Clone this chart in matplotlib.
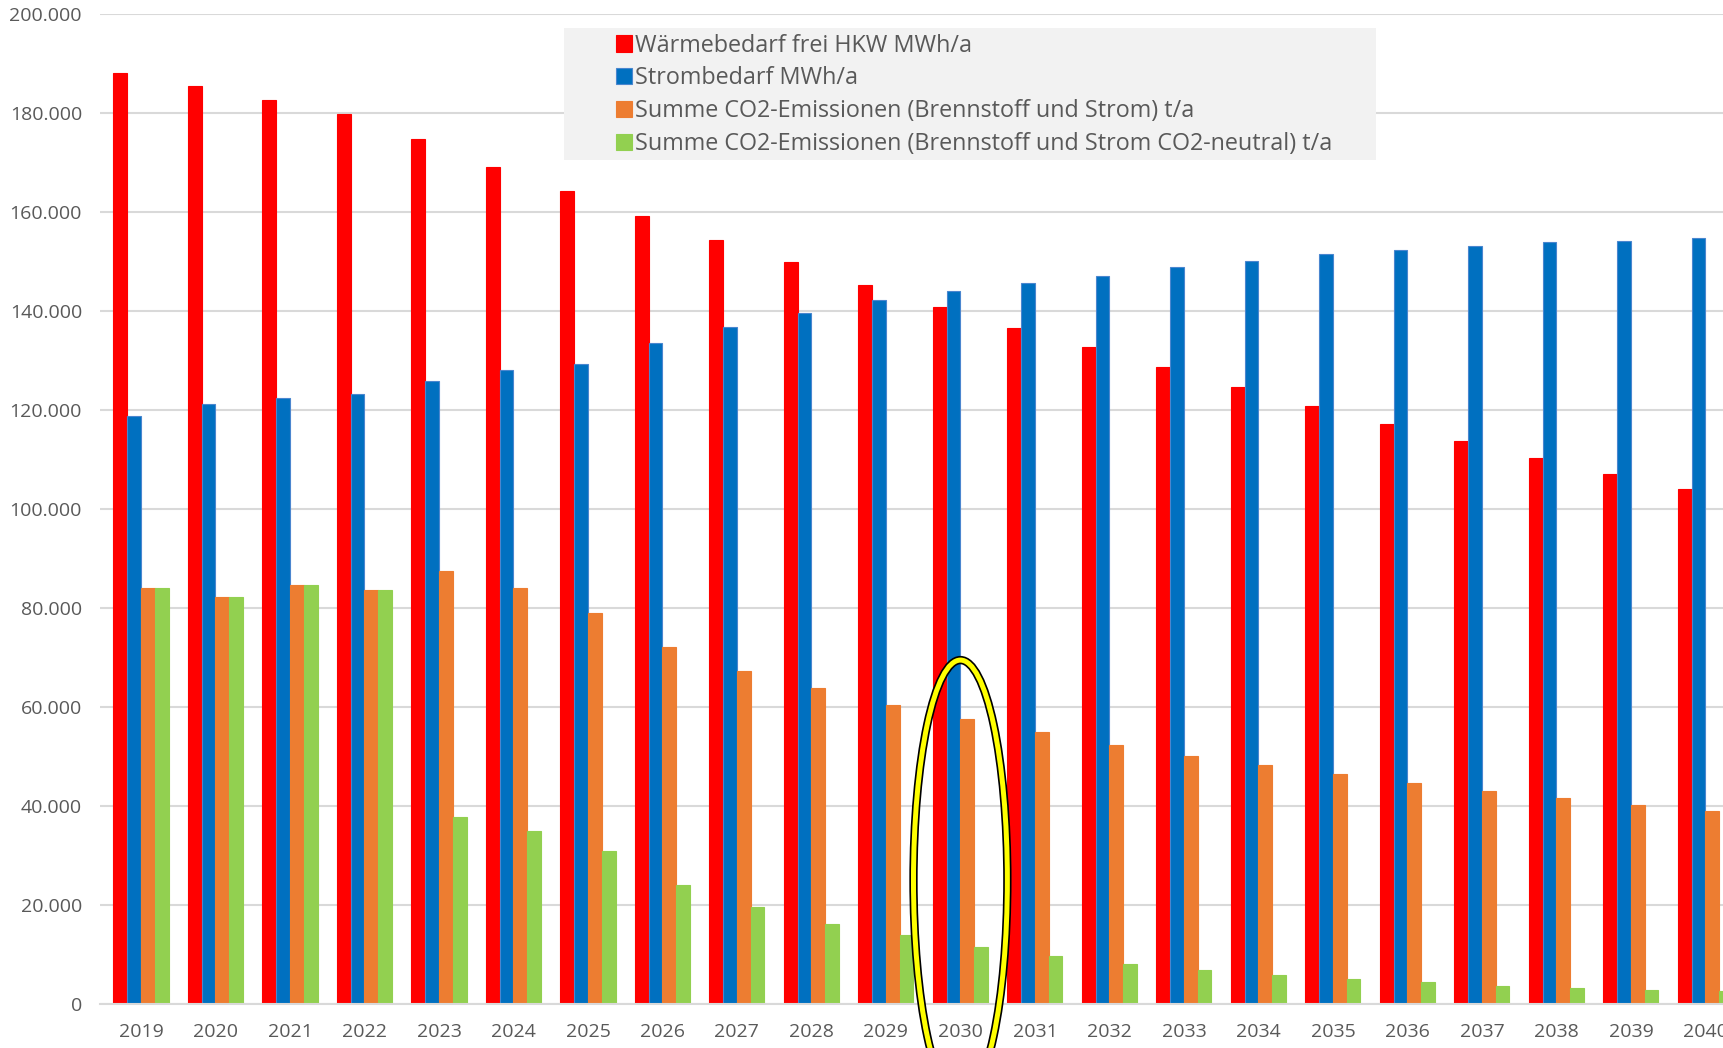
import matplotlib
matplotlib.use('Agg')
import matplotlib.pyplot as plt
import matplotlib.patheffects as pe
from matplotlib.patches import Ellipse, Rectangle
from matplotlib.ticker import FuncFormatter, MultipleLocator
import numpy as np

jahre = list(range(2019, 2041))

waermebedarf = [188200, 185600, 182700, 179800, 174700, 169100, 164200, 159300, 154400, 150000, 145300,
                140900, 136700, 132700, 128700, 124700, 120900, 117300, 113800, 110400, 107100, 104000]
strombedarf = [118900, 121300, 122400, 123300, 125800, 128200, 129300, 133600, 136900, 139600, 142200,
               144000, 145800, 147100, 148900, 150200, 151600, 152400, 153100, 154000, 154200, 154700]
co2_summe = [84000, 82200, 84700, 83600, 87600, 84000, 79100, 72200, 67300, 63800, 60400,
             57600, 54900, 52400, 50200, 48200, 46400, 44700, 43100, 41600, 40200, 39100]
co2_neutral = [84000, 82200, 84700, 83600, 37800, 34900, 30900, 24000, 19600, 16200, 14000,
               11600, 9800, 8000, 6900, 5800, 5100, 4400, 3600, 3300, 2900, 2700]

labels = ['Wärmebedarf frei HKW MWh/a',
          'Strombedarf MWh/a',
          'Summe CO2-Emissionen (Brennstoff und Strom) t/a',
          'Summe CO2-Emissionen (Brennstoff und Strom CO2-neutral) t/a']
farben = ['#FF0000', '#0070C0', '#ED7D31', '#92D050']
markiertes_jahr = 2030

plt.rcParams['font.family'] = ['Open Sans', 'DejaVu Sans']
textfarbe = '#595959'
gitter = '#D9D9D9'

W, H = 1724, 1048
fig = plt.figure(figsize=(W / 100, H / 100), dpi=100)
ax = fig.add_axes([100 / W, 1 - 1004 / H, 1 - 100 / W, (1004 - 14.3) / H])

x = np.arange(len(jahre))
breite = 0.185
reihen = [waermebedarf, strombedarf, co2_summe, co2_neutral]
for i, (werte, farbe, name) in enumerate(zip(reihen, farben, labels)):
    kante = '#4A86CF' if i == 1 else farbe
    ax.bar(x + (i - 1.5) * breite, werte, breite, color=farbe, edgecolor=kante,
           linewidth=0.8, label=name, zorder=2)

ax.set_xlim(-0.55, 21.25)
ax.set_ylim(0, 200000)
ax.yaxis.set_major_locator(MultipleLocator(20000))
ax.yaxis.set_major_formatter(FuncFormatter(lambda v, p: f"{int(v):,}".replace(",", ".")))
ax.set_xticks(x)
ax.set_xticklabels([str(j) for j in jahre])
ax.tick_params(axis='both', length=0, labelsize=14, labelcolor=textfarbe)
ax.tick_params(axis='x', pad=14)
ax.tick_params(axis='y', pad=13)

ax.grid(axis='y', color=gitter, linewidth=1.5, zorder=0)
ax.set_axisbelow(True)
for s in ['top', 'right', 'left']:
    ax.spines[s].set_visible(False)
ax.spines['bottom'].set_color(gitter)
ax.spines['bottom'].set_linewidth(1.5)

# Legende mit grauem Kasten
ax.add_patch(Rectangle((0.2857, 0.8525), 0.5003, 0.1339, transform=ax.transAxes,
                       facecolor='#F2F2F2', edgecolor='none', zorder=3))
leg = ax.legend(loc='upper left', bbox_to_anchor=(0.3175, 0.9805), frameon=False,
                fontsize=16.8, handlelength=0.7, handleheight=0.7, handletextpad=0.15,
                labelspacing=0.38, borderpad=0, borderaxespad=0)
leg.set_zorder(4)
for t in leg.get_texts():
    t.set_color(textfarbe)

# Markierung 2030
idx = jahre.index(markiertes_jahr)
ell = Ellipse((idx, 25000), 1.26, 89000, facecolor='none', edgecolor='#FFFF00',
              linewidth=3.6, clip_on=False, zorder=10)
ell.set_path_effects([pe.Stroke(linewidth=6.0, foreground='black'), pe.Normal()])
ax.add_patch(ell)

fig.savefig('out.png', dpi=100)
